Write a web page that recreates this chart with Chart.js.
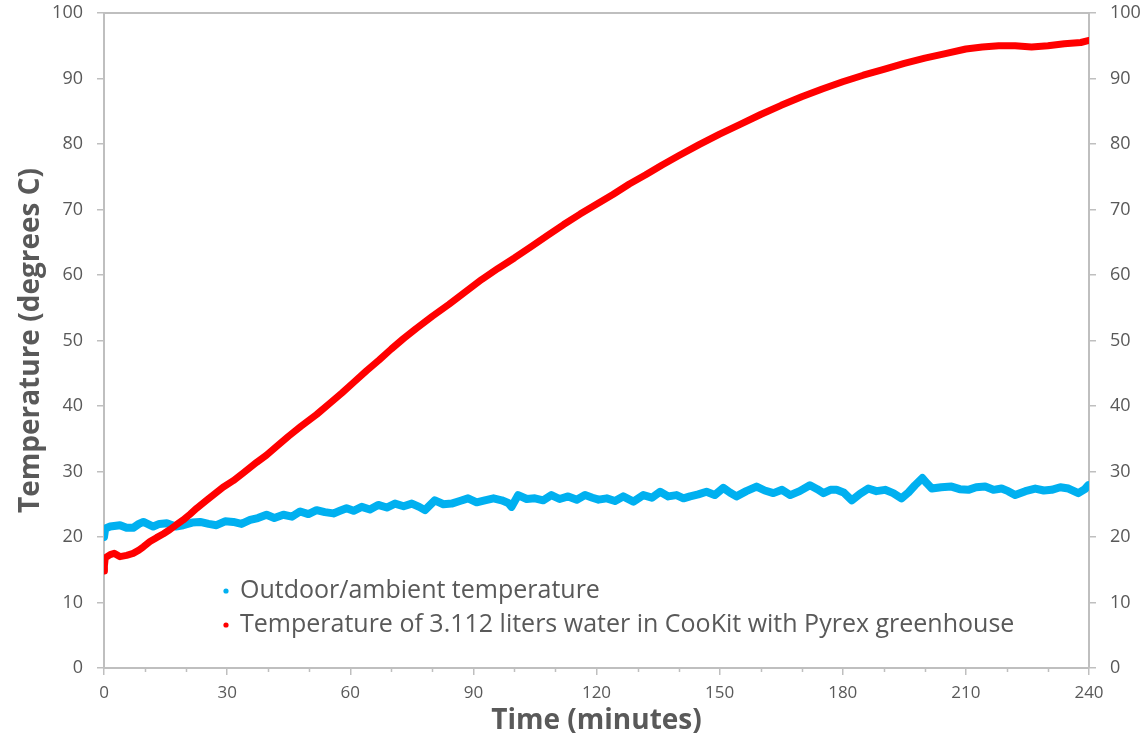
<!DOCTYPE html>
<html>
<head>
<meta charset="utf-8">
<script src="https://cdn.jsdelivr.net/npm/chart.js@4/dist/chart.umd.min.js"></script>
<style>
html,body{margin:0;padding:0;background:#fff;}
#wrap{width:1145px;height:742px;position:relative;}
</style>
</head>
<body>
<div id="wrap"><canvas id="c" width="1145" height="742"></canvas></div>
<script>
// ---- Data ----
const seriesNames = [
  "Outdoor/ambient temperature",
  "Temperature of 3.112 liters water in CooKit with Pyrex greenhouse"
];
const xTicks = [0, 30, 60, 90, 120, 150, 180, 210, 240];
const yTicks = [0, 10, 20, 30, 40, 50, 60, 70, 80, 90, 100];

const ambientTime = [0,0.3,1.5,3.9,5.5,7.1,8.5,9.6,12,13.5,15.3,17.5,19.3,21.5,23.4,25.5,27.4,29.5,31.5,33.5,35.6,37.5,39.6,41.5,43.7,45.8,47.8,49.8,51.8,53.8,55.9,57.5,59.1,60.8,62.8,64.8,66.8,68.9,70.9,73,75,76.8,78.2,80.6,82.7,84.7,86.7,88.7,90.8,92.8,94.9,96.9,98.5,99.3,100.9,103,105,107,109,111,113.1,115.2,117.2,119,120.5,122.5,124.5,126.5,129,131.4,133.5,135.5,137.5,139.5,141.2,142.8,144.8,146.8,148.8,150.9,152.5,154.1,156.5,159,161,163.1,165.2,167.2,169.5,172,173.8,175.3,177,178.5,180.2,182.2,184.2,186.2,188.2,190.3,192.3,194.3,196,197.6,199.4,200.5,201.7,204,206.5,208.5,210.6,212.5,214.7,216.7,218.7,220.3,222,224.5,226.9,229,230.9,233,235,237.4,239,239.8];
const ambientTemp = [20.0,21.3,21.6,21.8,21.4,21.4,22.0,22.3,21.6,22.0,22.1,21.6,21.8,22.2,22.3,22.0,21.8,22.4,22.3,22.0,22.6,22.9,23.4,22.9,23.4,23.1,23.9,23.5,24.1,23.8,23.6,24.0,24.4,24.0,24.6,24.2,24.9,24.5,25.1,24.7,25.1,24.6,24.1,25.6,25.0,25.1,25.5,25.9,25.3,25.6,25.9,25.6,25.2,24.6,26.4,25.8,25.9,25.6,26.4,25.8,26.2,25.7,26.4,26.0,25.7,25.9,25.5,26.2,25.4,26.4,26.0,26.9,26.2,26.4,25.9,26.2,26.5,26.9,26.4,27.5,26.8,26.2,27.0,27.7,27.1,26.7,27.2,26.4,27.0,27.9,27.3,26.7,27.2,27.2,26.8,25.6,26.6,27.4,27.0,27.2,26.7,25.9,26.8,27.9,29.0,28.2,27.4,27.6,27.7,27.3,27.2,27.6,27.7,27.2,27.4,27.0,26.4,27.0,27.4,27.1,27.2,27.6,27.4,26.7,27.3,27.9];

const waterTime = [0,0.1,0.3,1.5,2.5,3.9,5.5,7.1,8.5,9.6,11.2,12.8,14.5,16,17.5,19.3,21,22.6,25,27,29,31.5,34,37.2,39.6,42,45,48,51.8,55,58,61,64,67,70,73,76,80,84,88,92,96,100,104,108,112,116,120,124,128,132,136,140,145,150,155,160,165,170,175,180,185,190,195,200,205,210,214,218,222,226,230,234,238,240];
const waterTemp = [14.8,15.6,16.8,17.3,17.5,17.0,17.2,17.5,18.0,18.5,19.3,19.9,20.5,21.1,21.8,22.6,23.5,24.4,25.6,26.6,27.6,28.6,29.8,31.4,32.5,33.8,35.4,36.9,38.7,40.4,42.0,43.7,45.4,47.0,48.7,50.3,51.8,53.7,55.5,57.4,59.3,61.0,62.6,64.3,66.0,67.7,69.3,70.8,72.3,73.9,75.3,76.8,78.2,79.9,81.5,83.0,84.5,85.9,87.2,88.4,89.5,90.5,91.4,92.3,93.1,93.8,94.5,94.8,95.0,95.0,94.8,95.0,95.3,95.5,95.8];

const seriesColors = ["#00B0F0", "#FF0000"];
// ---- end data ----

const FONT = "'Open Sans', 'Noto Sans', sans-serif";
const GREY = "#595959";
const AXIS = "#BFBFBF";

const toPts = (xs, ys) => xs.map((x, i) => ({x: x, y: ys[i]}));

const minorTicks = {
  id: 'minorTicks',
  afterDraw(chart) {
    const sx = chart.scales.x;
    const ctx = chart.ctx;
    ctx.save();
    ctx.strokeStyle = AXIS;
    ctx.lineWidth = 1.5;
    for (let v = 0; v <= 240; v += 10) {
      if (v % 30 === 0) continue;
      const px = Math.round(sx.getPixelForValue(v)) + 0.5;
      ctx.beginPath();
      ctx.moveTo(px, sx.top);
      ctx.lineTo(px, sx.top + 4);
      ctx.stroke();
    }
    ctx.restore();
  }
};

const customLegend = {
  id: 'customLegend',
  afterDraw(chart) {
    const ctx = chart.ctx;
    ctx.save();
    ctx.font = "25px " + FONT;
    ctx.textBaseline = 'middle';
    ctx.textAlign = 'left';
    const rows = [591, 625];
    [0, 1].forEach((di, k) => {
      const ds = chart.data.datasets[di];
      const y = rows[k];
      ctx.fillStyle = ds.borderColor;
      ctx.beginPath();
      ctx.arc(226, y, 2.6, 0, Math.PI * 2);
      ctx.fill();
      ctx.fillStyle = GREY;
      ctx.fillText(ds.label, 240, y);
    });
    ctx.restore();
  }
};

const noPadV = s => { s.paddingTop = 0; s.paddingBottom = 0; };
const noPadH = s => { s.paddingLeft = 0; s.paddingRight = 0; };

new Chart(document.getElementById('c'), {
  type: 'scatter',
  data: {
    datasets: [
      {
        label: seriesNames[0],
        data: toPts(ambientTime, ambientTemp),
        borderColor: seriesColors[0],
        backgroundColor: seriesColors[0],
        showLine: true,
        borderWidth: 8,
        borderJoinStyle: 'round',
        borderCapStyle: 'round',
        pointRadius: 0,
        order: 1
      },
      {
        label: seriesNames[1],
        data: toPts(waterTime, waterTemp),
        borderColor: seriesColors[1],
        backgroundColor: seriesColors[1],
        showLine: true,
        borderWidth: 7,
        borderJoinStyle: 'round',
        borderCapStyle: 'round',
        pointRadius: 0,
        order: 0
      }
    ]
  },
  options: {
    responsive: false,
    animation: false,
    devicePixelRatio: 1,
    layout: { padding: 0 },
    plugins: {
      legend: { display: false },
      tooltip: { enabled: false }
    },
    scales: {
      x: {
        type: 'linear', position: 'bottom', min: 0, max: 240,
        afterBuildTicks: s => { s.ticks = xTicks.map(v => ({value: v})); },
        afterFit: s => { s.height = 74; noPadH(s); },
        grid: { display: true, drawOnChartArea: false, tickLength: 7, color: AXIS, lineWidth: 1.5 },
        border: { display: true, color: AXIS, width: 2 },
        ticks: { color: GREY, font: { family: FONT, size: 17 }, padding: 8, maxRotation: 0 },
        title: { display: true, text: 'Time (minutes)', color: GREY,
                 font: { family: FONT, size: 28, weight: 'bold' }, padding: { top: 0, bottom: 4 } }
      },
      x2: {
        type: 'linear', position: 'top', min: 0, max: 240,
        afterFit: s => { s.height = 13; noPadH(s); },
        grid: { display: false },
        border: { display: true, color: AXIS, width: 2 },
        ticks: { display: false }
      },
      y: {
        type: 'linear', position: 'left', min: 0, max: 100,
        afterBuildTicks: s => { s.ticks = yTicks.map(v => ({value: v})); },
        afterFit: s => { s.width = 104; noPadV(s); },
        grid: { display: true, drawOnChartArea: false, tickLength: 7, color: AXIS, lineWidth: 1.5 },
        border: { display: true, color: AXIS, width: 2 },
        ticks: { color: GREY, font: { family: FONT, size: 18 }, padding: 14 },
        title: { display: true, text: 'Temperature (degrees C)', color: GREY,
                 font: { family: FONT, size: 28, weight: 'bold' }, padding: { top: 14, bottom: 0 } }
      },
      y2: {
        type: 'linear', position: 'right', min: 0, max: 100,
        afterBuildTicks: s => { s.ticks = yTicks.map(v => ({value: v})); },
        afterFit: s => { s.width = 56; noPadV(s); },
        grid: { display: true, drawOnChartArea: false, tickLength: 7, color: AXIS, lineWidth: 1.5 },
        border: { display: true, color: AXIS, width: 2 },
        ticks: { color: GREY, font: { family: FONT, size: 18 }, padding: 14 }
      }
    }
  },
  plugins: [minorTicks, customLegend]
});
</script>
</body>
</html>
